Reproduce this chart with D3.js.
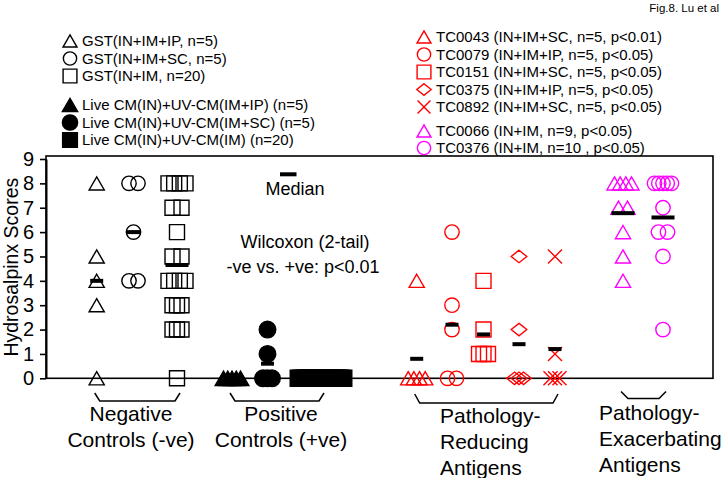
<!DOCTYPE html>
<html>
<head>
<meta charset="utf-8">
<script src="https://cdn.jsdelivr.net/npm/d3@7"></script>
<style>
  body { margin: 0; background: #fff; }
  svg { display: block; font-family: "Liberation Sans", Arial, sans-serif; }
</style>
</head>
<body>
<div id="chart"></div>
<script>
// hydrosalpinx scores, one array per column
const gstIP = [8, 5, 4, 3, 0];
const gstSC = [8, 8, 6, 4, 4];
const gstIM = [8, 8, 8, 8, 7, 7, 6, 5, 5, 4, 4, 4, 4, 3, 3, 3, 2, 2, 2, 0];
const liveIP = [0, 0, 0, 0, 0];
const liveSC = [2, 1, 0, 0, 0];
const liveIM = [0, 0, 0, 0, 0, 0, 0, 0, 0, 0, 0, 0, 0, 0, 0, 0, 0, 0, 0, 0];
const tc0043 = [4, 0, 0, 0, 0];
const tc0079 = [6, 3, 2, 0, 0];
const tc0151 = [4, 2, 1, 1, 1];
const tc0375 = [5, 2, 0, 0, 0];
const tc0892 = [5, 1, 0, 0, 0];
const tc0066 = [8, 8, 8, 8, 7, 7, 6, 5, 4];
const tc0376 = [8, 8, 8, 8, 8, 7, 6, 6, 5, 2];

const columnNames = ['gstIP', 'gstSC', 'gstIM', 'liveIP', 'liveSC', 'liveIM',
  'tc0043', 'tc0079', 'tc0151', 'tc0375', 'tc0892', 'tc0066', 'tc0376'];
const columnValues = [gstIP, gstSC, gstIM, liveIP, liveSC, liveIM,
  tc0043, tc0079, tc0151, tc0375, tc0892, tc0066, tc0376];

const yTicks = [0, 1, 2, 3, 4, 5, 6, 7, 8, 9];

const leftLegendLabels = ['GST(IN+IM+IP, n=5)', 'GST(IN+IM+SC, n=5)', 'GST(IN+IM, n=20)',
  'Live CM(IN)+UV-CM(IM+IP) (n=5)', 'Live CM(IN)+UV-CM(IM+SC) (n=5)', 'Live CM(IN)+UV-CM(IM) (n=20)'];
const rightLegendLabels = ['TC0043 (IN+IM+SC, n=5, p<0.01)', 'TC0079 (IN+IM+IP, n=5, p<0.05)',
  'TC0151 (IN+IM+SC, n=5, p<0.05)', 'TC0375 (IN+IM+IP, n=5, p<0.05)', 'TC0892 (IN+IM+SC, n=5, p<0.05)',
  'TC0066 (IN+IM, n=9, p<0.05)', 'TC0376 (IN+IM, n=10 , p<0.05)'];

const groupLabels = [['Negative', 'Controls (-ve)'], ['Positive', 'Controls (+ve)'],
  ['Pathology-', 'Reducing', 'Antigens'], ['Pathology-', 'Exacerbating', 'Antigens']];
const groupColumns = [['gstIP', 'gstIM'], ['liveIP', 'liveIM'], ['tc0043', 'tc0892'], ['tc0066', 'tc0376']];

// ---- styles / layout ----
const width = 723, height = 478;
const frame = { left: 46, right: 713, top: 156, bottom: 378.3 };
const columnX = [96.7, 133.5, 177, 232, 267.5, 321, 416.7, 452, 483.5, 519, 555, 623, 663];
const columnSymbol = ['triangle', 'circle', 'square', 'triangle', 'circle', 'square',
  'triangle', 'circle', 'square', 'diamond', 'x', 'triangle', 'circle'];
const red = '#ff0000', magenta = '#ff00ff';
const columnColor = ['#000', '#000', '#000', '#000', '#000', '#000', red, red, red, red, red, magenta, magenta];
const columnFilled = [false, false, false, true, true, true, false, false, false, false, false, false, false];
const hollowSize = { triangle: 100, circle: 163, square: 225, diamond: 121, x: 130 };
const filledSize = { triangle: 120, circle: 216, square: 256 };

const leftLegendY = [41, 58.5, 76, 105, 122.5, 140];
const rightLegendY = [37, 54.5, 72, 89.5, 107, 131, 148];
const legendSizeScale = 0.85;

const font = '"Liberation Sans", Arial, sans-serif';

const svg = d3.select('#chart')
  .append('svg')
  .attr('width', width)
  .attr('height', height)
  .style('background-color', '#fff');

const y = d3.scaleLinear()
  .domain([0, 9])
  .range([frame.bottom, 159]);

const x = d3.scaleOrdinal()
  .domain(columnNames)
  .range(columnX);

const symbolTypes = {
  triangle: d3.symbolTriangle, circle: d3.symbolCircle, square: d3.symbolSquare,
  diamond: d3.symbolSquare, x: d3.symbolX || d3.symbolCross
};

function drawMarker(g, type, cx, cy, size, color, filled) {
  let t = `translate(${cx},${cy})`;
  // d3 triangle sits on its centroid, move it to the box centre
  if (type === 'triangle') t += ` translate(0,${Math.sqrt(size / (3 * Math.sqrt(3))) / 2})`;
  if (type === 'diamond') t += ' scale(1,0.8) rotate(45)';
  if (type === 'x' && !d3.symbolX) t += ' rotate(45)';
  g.append('path')
    .attr('d', d3.symbol(symbolTypes[type], size)())
    .attr('transform', t)
    .attr('fill', filled ? color : 'none')
    .attr('stroke', color)
    .attr('stroke-width', 1.4)
    .attr('vector-effect', 'non-scaling-stroke');
}

// equal scores are put side by side like a column scatter
function spreadOffsets(values) {
  const counts = d3.rollup(values, v => v.length, d => d);
  const seen = new Map();
  return values.map(v => {
    const k = counts.get(v);
    const i = seen.get(v) || 0;
    seen.set(v, i + 1);
    if (k <= 1) return 0;
    const span = k <= 3 ? 9 : k <= 5 ? 17 : 2.4 * (k - 1);
    return -span / 2 + i * span / (k - 1);
  });
}

// frame
svg.append('rect')
  .attr('x', frame.left)
  .attr('y', frame.top)
  .attr('width', frame.right - frame.left)
  .attr('height', frame.bottom - frame.top)
  .attr('fill', 'none')
  .attr('stroke', '#000')
  .attr('stroke-width', 1.6);

// y axis
const axis = svg.append('g')
  .attr('transform', `translate(${frame.left},0)`)
  .call(d3.axisLeft(y).tickValues(yTicks).tickSize(6).tickSizeOuter(0).tickPadding(6));
axis.select('.domain').attr('stroke-width', 2);
axis.selectAll('.tick line').attr('stroke-width', 1.6);
axis.selectAll('.tick text')
  .attr('font-family', font)
  .attr('font-size', 20)
  .attr('fill', '#000');

svg.append('text')
  .attr('transform', `translate(18,${(frame.top + frame.bottom) / 2}) rotate(-90)`)
  .attr('text-anchor', 'middle')
  .attr('font-size', 19.5)
  .text('Hydrosalpinx Scores');

// markers
const marks = svg.append('g');
columnNames.forEach((name, i) => {
  const values = columnValues[i];
  const offs = spreadOffsets(values);
  const type = columnSymbol[i];
  const size = columnFilled[i] ? filledSize[type] : hollowSize[type];
  values.forEach((v, j) => {
    drawMarker(marks, type, x(name) + offs[j], y(v), size, columnColor[i], columnFilled[i]);
  });
});

// mean bars (labelled "Median" in the figure)
const bars = svg.append('g');
columnNames.forEach((name, i) => {
  const values = columnValues[i];
  const w = values.length >= 9 ? 23 : 13;
  bars.append('rect')
    .attr('x', x(name) - w / 2)
    .attr('y', y(d3.mean(values)) - 2)
    .attr('width', w)
    .attr('height', 4)
    .attr('fill', '#000');
});

// "Median" key and test note
svg.append('rect').attr('x', 280).attr('y', 172.3).attr('width', 16.5).attr('height', 4).attr('fill', '#000');
svg.append('text').attr('x', 295).attr('y', 194.5).attr('text-anchor', 'middle').attr('font-size', 18).text('Median');
svg.append('text').attr('x', 305).attr('y', 248).attr('text-anchor', 'middle').attr('font-size', 18).text('Wilcoxon (2-tail)');
svg.append('text').attr('x', 303).attr('y', 272.5).attr('text-anchor', 'middle').attr('font-size', 18).text('-ve vs. +ve: p<0.01');

// group brackets and labels
const bracketY = [[393, 401, 5], [393, 401, 5], [394, 403, 5], [391.5, 398.5, 7]];
const labelAnchor = ['middle', 'middle', 'start', 'start'];
const labelX = [131, 281, 440, 599];
const labelY = [421, 421, 423, 420];
groupColumns.forEach((cols, i) => {
  const x0 = x(cols[0]) - 2, x1 = x(cols[1]) + 3;
  const [top, bottom, inset] = bracketY[i];
  svg.append('path')
    .attr('d', d3.line()([[x0, top], [x0 + inset, bottom], [x1 - inset, bottom], [x1, top]]))
    .attr('fill', 'none')
    .attr('stroke', '#000')
    .attr('stroke-width', 1.5);
  groupLabels[i].forEach((line, k) => {
    svg.append('text')
      .attr('x', labelX[i])
      .attr('y', labelY[i] + k * 26)
      .attr('text-anchor', labelAnchor[i])
      .attr('font-size', 21)
      .text(line);
  });
});

// legends
leftLegendLabels.forEach((label, i) => {
  const type = columnSymbol[i];
  const size = (columnFilled[i] ? filledSize[type] : hollowSize[type]) * legendSizeScale;
  drawMarker(svg, type, 70, leftLegendY[i], size, columnColor[i], columnFilled[i]);
  svg.append('text').attr('x', 82).attr('y', leftLegendY[i]).attr('dy', '0.35em')
    .attr('font-size', 15).text(label);
});
rightLegendLabels.forEach((label, i) => {
  const c = i + 6;
  const type = columnSymbol[c];
  drawMarker(svg, type, 424, rightLegendY[i], hollowSize[type] * legendSizeScale, columnColor[c], false);
  svg.append('text').attr('x', 436).attr('y', rightLegendY[i]).attr('dy', '0.35em')
    .attr('font-size', 15).text(label);
});

svg.append('text')
  .attr('x', 719)
  .attr('y', 12)
  .attr('text-anchor', 'end')
  .attr('font-size', 11.5)
  .text('Fig.8. Lu et al');
</script>
</body>
</html>
